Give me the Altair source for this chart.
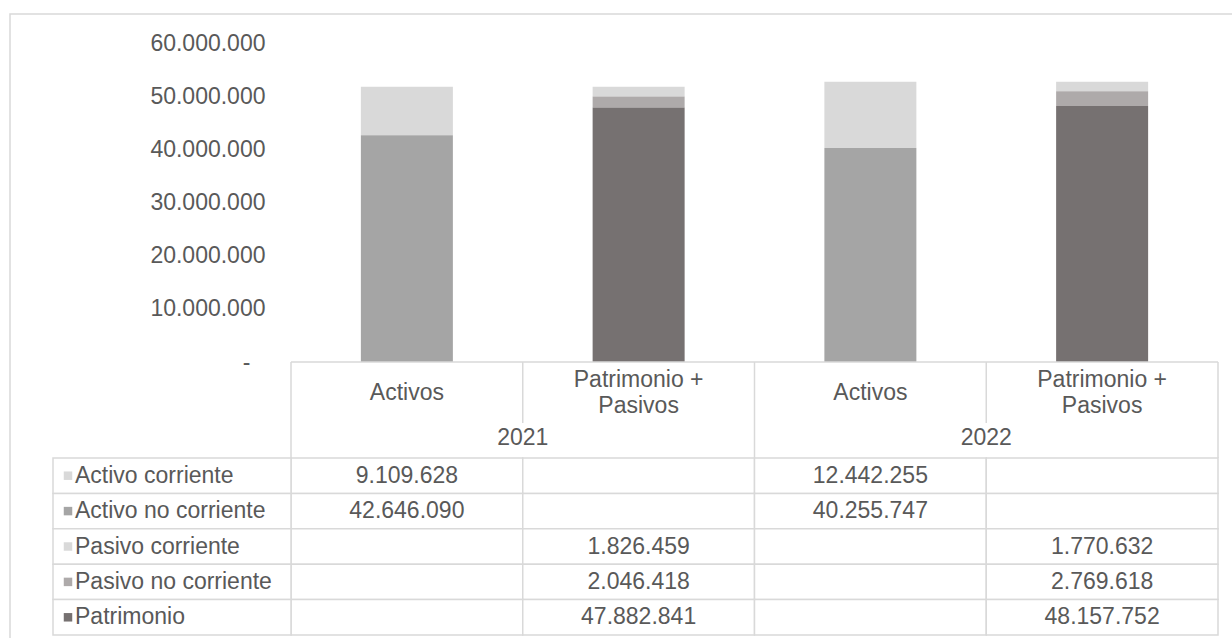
import altair as alt
import pandas as pd

# ---- data ----
columns = ["Activos 2021", "Patrimonio + Pasivos 2021", "Activos 2022", "Patrimonio + Pasivos 2022"]
column_labels = ["Activos", "Patrimonio +\nPasivos", "Activos", "Patrimonio +\nPasivos"]
years = ["2021", "2022"]
year_first_column = ["Activos 2021", "Activos 2022"]

series = ["Activo corriente", "Activo no corriente", "Pasivo corriente", "Pasivo no corriente", "Patrimonio"]
colors = ["#d9d9d9", "#a5a5a5", "#d9d9d9", "#aeaaaa", "#767171"]

activo_corriente = [9109628, None, 12442255, None]
activo_no_corriente = [42646090, None, 40255747, None]
pasivo_corriente = [None, 1826459, None, 1770632]
pasivo_no_corriente = [None, 2046418, None, 2769618]
patrimonio = [None, 47882841, None, 48157752]

y_ticks = [0, 10000000, 20000000, 30000000, 40000000, 50000000, 60000000]

# ---- tables built from the arrays ----
values_by_series = [activo_corriente, activo_no_corriente, pasivo_corriente, pasivo_no_corriente, patrimonio]


def fmt(v):
    return "" if v is None else f"{v:,}".replace(",", ".")


rows = []
for i, (name, vals) in enumerate(zip(series, values_by_series)):
    for col, v in zip(columns, vals):
        rows.append({"series": name, "idx": i, "col": col, "value": v, "label": fmt(v)})
cells = pd.DataFrame(rows)
bars_df = cells.dropna(subset=["value"])

col_df = pd.DataFrame({"col": columns, "text": column_labels})
year_df = pd.DataFrame({"col": year_first_column, "year": years})
series_df = pd.DataFrame({"series": series})
one = pd.DataFrame({"a": [0]})

FONT = "Liberation Sans"
FS = 23
TXT = "#595959"
LINE = "#d9d9d9"

W, H = 927, 319
HDR_BOTTOM = 415   # bottom of header block (plot coords)
HDR_SPLIT = 380    # end of the short divider between the two categories of a year
TBL_BOTTOM = 592
LBL_LEFT = -238

x_scale = alt.Scale(domain=columns, paddingInner=0, paddingOuter=0)
row_scale = alt.Scale(domain=series, range=[HDR_BOTTOM, TBL_BOTTOM], paddingInner=0, paddingOuter=0)

label_expr = ("datum.value == 0 ? '-' : "
              "replace(replace(format(datum.value, ','), ',', '.'), ',', '.')")

outer = alt.Chart(one).mark_rect(fillOpacity=0, stroke=LINE, strokeWidth=1.5).encode(
    x=alt.value(-281), x2=alt.value(980), y=alt.value(-29), y2=alt.value(640)
)

bars = alt.Chart(bars_df).mark_bar(size=92).encode(
    x=alt.X("col:N", scale=x_scale, axis=None, sort=columns),
    y=alt.Y(
        "value:Q",
        stack="zero",
        scale=alt.Scale(domain=[0, 60000000], nice=False, zero=True),
        axis=alt.Axis(
            values=y_ticks, labelExpr=label_expr, title=None, domain=False, ticks=False,
            grid=False, labelFont=FONT, labelFontSize=FS, labelColor=TXT,
            labelPadding={"condition": {"test": "datum.value == 0", "value": 41}, "value": 26},
        ),
    ),
    color=alt.Color("series:N", scale=alt.Scale(domain=series, range=colors), legend=None),
    order=alt.Order("idx:Q", sort="descending"),
)

# header top line
hdr_top = alt.Chart(one).mark_rule(color=LINE, strokeWidth=1.5).encode(
    x=alt.value(0), x2=alt.value(W), y=alt.value(H), y2=alt.value(H)
)
# full height header dividers (year boundaries)
full_left = alt.Chart(year_df).mark_rule(color=LINE, strokeWidth=1.5).encode(
    x=alt.X("col:N", scale=x_scale, axis=None, bandPosition=0),
    y=alt.value(H), y2=alt.value(HDR_BOTTOM),
)
full_right = alt.Chart(pd.DataFrame({"col": [columns[-1]]})).mark_rule(color=LINE, strokeWidth=1.5).encode(
    x=alt.X("col:N", scale=x_scale, axis=None, bandPosition=1),
    y=alt.value(H), y2=alt.value(HDR_BOTTOM),
)
short_div = alt.Chart(pd.DataFrame({"col": [columns[1], columns[3]]})).mark_rule(color=LINE, strokeWidth=1.5).encode(
    x=alt.X("col:N", scale=x_scale, axis=None, bandPosition=0),
    y=alt.value(H), y2=alt.value(HDR_SPLIT),
)
hdr_text_one = alt.Chart(col_df).transform_filter(
    "indexof(datum.text, '\\n') < 0"
).mark_text(
    font=FONT, fontSize=FS, color=TXT, baseline="middle", align="center"
).encode(
    x=alt.X("col:N", scale=x_scale, axis=None),
    y=alt.value(350),
    text="text:N",
)
hdr_text_two = alt.Chart(col_df).transform_filter(
    "indexof(datum.text, '\\n') >= 0"
).mark_text(
    font=FONT, fontSize=FS, color=TXT, lineBreak="\n", lineHeight=26, baseline="middle", align="center"
).encode(
    x=alt.X("col:N", scale=x_scale, axis=None),
    y=alt.value(337),
    text="text:N",
)
year_text = alt.Chart(year_df).mark_text(
    font=FONT, fontSize=FS, color=TXT, baseline="middle", align="center"
).encode(
    x=alt.X("col:N", scale=x_scale, axis=None, bandPosition=1),
    y=alt.value(395),
    text="year:N",
)

# data table
cell_rects = alt.Chart(cells).mark_rect(fill="white", stroke=LINE, strokeWidth=1.5).encode(
    x=alt.X("col:N", scale=x_scale, axis=None),
    y=alt.Y("series:N", scale=row_scale, axis=None),
)
label_rects = alt.Chart(series_df).mark_rect(fill="white", stroke=LINE, strokeWidth=1.5).encode(
    x=alt.value(LBL_LEFT), x2=alt.value(0),
    y=alt.Y("series:N", scale=row_scale, axis=None),
)
keys = alt.Chart(series_df).mark_square(size=72, opacity=1).encode(
    x=alt.value(LBL_LEFT + 15),
    y=alt.Y("series:N", scale=row_scale, axis=None),
    color=alt.Color("series:N", scale=alt.Scale(domain=series, range=colors), legend=None),
)
label_text = alt.Chart(series_df).mark_text(
    font=FONT, fontSize=FS, color=TXT, align="left", baseline="middle"
).encode(
    x=alt.value(LBL_LEFT + 22),
    y=alt.Y("series:N", scale=row_scale, axis=None),
    text="series:N",
)
value_text = alt.Chart(cells).mark_text(
    font=FONT, fontSize=FS, color=TXT, align="center", baseline="middle"
).encode(
    x=alt.X("col:N", scale=x_scale, axis=None),
    y=alt.Y("series:N", scale=row_scale, axis=None),
    text="label:N",
)

chart = alt.layer(
    outer, bars, hdr_top, full_left, full_right, short_div, hdr_text_one, hdr_text_two, year_text,
    cell_rects, label_rects, keys, label_text, value_text,
).resolve_scale(y="independent").properties(
    width=W, height=H,
    autosize=alt.AutoSizeParams(type="none"),
    padding={"left": 291, "top": 43, "right": 14, "bottom": 276},
    background="white",
).configure_view(strokeWidth=0)

chart.save("out.html", embed_options={"renderer": "svg", "actions": False})
